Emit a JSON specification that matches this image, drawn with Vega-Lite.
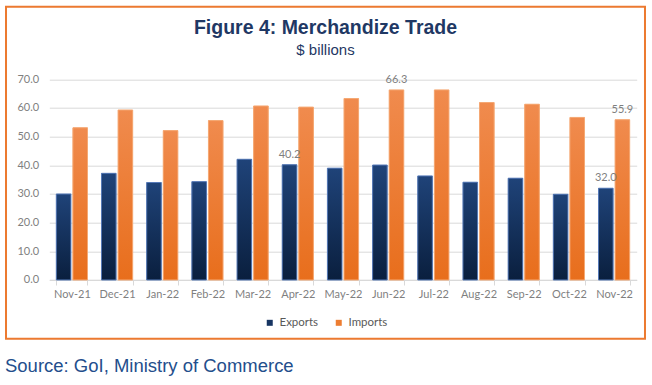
{
  "$schema": "https://vega.github.io/schema/vega-lite/v6.json",
  "padding": {"left": 5, "top": 5.7, "right": 5, "bottom": 5},
  "background": "white",
  "title": {
    "text": "Source: GoI, Ministry of Commerce",
    "orient": "bottom",
    "anchor": "start",
    "frame": "bounds",
    "font": "Liberation Sans",
    "fontSize": 18.5,
    "fontWeight": "normal",
    "color": "#234e8c",
    "offset": 17
  },
  "vconcat": [
    {
      "width": 639,
      "height": 332,
      "title": {
        "text": "Figure 4: Merchandize Trade",
        "subtitle": "$ billions",
        "anchor": "middle",
        "frame": "group",
        "font": "Liberation Sans",
        "fontSize": 19.5,
        "fontWeight": "bold",
        "color": "#1f3864",
        "subtitleFont": "Liberation Sans",
        "subtitleFontSize": 15,
        "subtitleColor": "#1f3864",
        "subtitlePadding": 4,
        "offset": -52
      },
      "data": {
        "values": [
          {"month": "Nov-21", "series": "Exports", "value": 30.0, "show": false},
          {"month": "Nov-21", "series": "Imports", "value": 53.1, "show": false},
          {"month": "Dec-21", "series": "Exports", "value": 37.2, "show": false},
          {"month": "Dec-21", "series": "Imports", "value": 59.3, "show": false},
          {"month": "Jan-22", "series": "Exports", "value": 34.0, "show": false},
          {"month": "Jan-22", "series": "Imports", "value": 52.1, "show": false},
          {"month": "Feb-22", "series": "Exports", "value": 34.3, "show": false},
          {"month": "Feb-22", "series": "Imports", "value": 55.6, "show": false},
          {"month": "Mar-22", "series": "Exports", "value": 42.1, "show": false},
          {"month": "Mar-22", "series": "Imports", "value": 60.7, "show": false},
          {"month": "Apr-22", "series": "Exports", "value": 40.2, "show": true},
          {"month": "Apr-22", "series": "Imports", "value": 60.3, "show": false},
          {"month": "May-22", "series": "Exports", "value": 39.0, "show": false},
          {"month": "May-22", "series": "Imports", "value": 63.3, "show": false},
          {"month": "Jun-22", "series": "Exports", "value": 40.1, "show": false},
          {"month": "Jun-22", "series": "Imports", "value": 66.3, "show": true},
          {"month": "Jul-22", "series": "Exports", "value": 36.3, "show": false},
          {"month": "Jul-22", "series": "Imports", "value": 66.3, "show": false},
          {"month": "Aug-22", "series": "Exports", "value": 34.1, "show": false},
          {"month": "Aug-22", "series": "Imports", "value": 61.9, "show": false},
          {"month": "Sep-22", "series": "Exports", "value": 35.5, "show": false},
          {"month": "Sep-22", "series": "Imports", "value": 61.3, "show": false},
          {"month": "Oct-22", "series": "Exports", "value": 29.9, "show": false},
          {"month": "Oct-22", "series": "Imports", "value": 56.7, "show": false},
          {"month": "Nov-22", "series": "Exports", "value": 32.0, "show": true},
          {"month": "Nov-22", "series": "Imports", "value": 55.9, "show": true}
        ]
      },
      "encoding": {
        "x": {
          "field": "month",
          "type": "ordinal",
          "sort": null,
          "scale": {"range": [43.3, 630.7], "paddingInner": 0.31, "paddingOuter": 0.155},
          "axis": {
            "title": null,
            "orient": "bottom",
            "offset": -58.7,
            "labelAngle": 0,
            "tickBand": "extent",
            "ticks": true,
            "tickSize": 5,
            "tickColor": "#d9d9d9",
            "domainColor": "#d9d9d9",
            "labelColor": "#7f7f7f",
            "labelFont": "Lato",
            "labelFontSize": 11,
            "labelPadding": 4,
            "grid": false
          }
        },
        "xOffset": {
          "field": "series",
          "type": "nominal",
          "scale": {"paddingInner": 0.12, "paddingOuter": 0}
        },
        "y": {
          "field": "value",
          "type": "quantitative",
          "scale": {"domain": [0, 70], "nice": false, "range": [273.3, 72.6]},
          "axis": {
            "title": null,
            "orient": "left",
            "offset": -43.3,
            "values": [0, 10, 20, 30, 40, 50, 60, 70],
            "format": ".1f",
            "domain": false,
            "ticks": false,
            "tickSize": 0,
            "grid": true,
            "gridColor": "#d9d9d9",
            "labelColor": "#7f7f7f",
            "labelFont": "Lato",
            "labelFontSize": 11,
            "labelPadding": 10.7
          }
        }
      },
      "layer": [
        {
          "mark": {"type": "bar", "strokeWidth": 0},
          "encoding": {
            "fill": {
              "field": "series",
              "type": "nominal",
              "scale": {"domain": ["Exports", "Imports"], "range": ["#173562", "#ed7d31"]},
              "legend": {
                "title": null,
                "orient": "bottom",
                "direction": "horizontal",
                "offset": -23,
                "symbolType": "square",
                "symbolSize": 36,
                "symbolStrokeWidth": 0,
                "labelColor": "#595959",
                "labelFont": "Lato",
                "labelFontSize": 11.5,
                "labelOffset": 4,
                "columnPadding": 14
              }
            }
          }
        },
        {
          "mark": {"type": "bar", "strokeWidth": 1},
          "encoding": {
            "fill": {
              "condition": {
                "test": "datum.series === 'Exports'",
                "value": {"gradient": "linear", "x1": 0, "y1": 0, "x2": 0, "y2": 1, "stops": [{"offset": 0, "color": "#1f4379"}, {"offset": 1, "color": "#0a1f3e"}]}
              },
              "value": {"gradient": "linear", "x1": 0, "y1": 0, "x2": 0, "y2": 1, "stops": [{"offset": 0, "color": "#f08b4e"}, {"offset": 1, "color": "#e86e1c"}]}
            },
            "stroke": {
              "condition": {"test": "datum.series === 'Exports'", "value": "#5579b8"},
              "value": "#f5a974"
            }
          }
        },
        {
          "transform": [{"filter": "datum.show"}],
          "mark": {"type": "text", "baseline": "alphabetic", "dy": -7, "font": "Lato", "fontSize": 11, "color": "#7f7f7f"},
          "encoding": {
            "text": {"field": "value", "type": "quantitative", "format": ".1f"}
          }
        }
      ]
    }
  ],
  "config": {
    "view": {"stroke": "#ec7a30", "strokeWidth": 2},
    "legend": {"layout": {"bottom": {"anchor": "middle"}}}
  }
}
